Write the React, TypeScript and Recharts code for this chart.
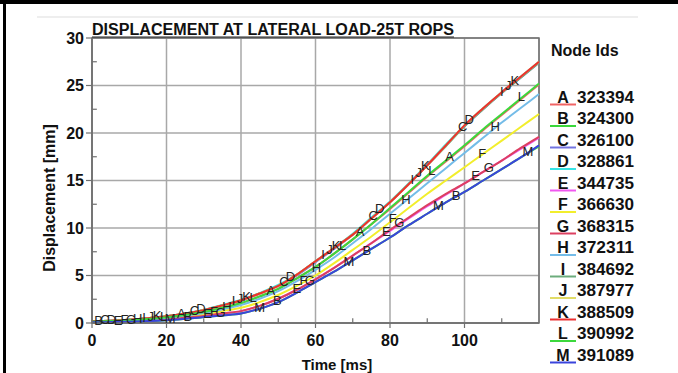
import {
  CartesianGrid,
  Line,
  LineChart,
  ReferenceArea,
  ReferenceDot,
  ReferenceLine,
  XAxis,
  YAxis,
} from "recharts";

const TIMES = [0, 5, 10, 15, 20, 25, 30, 35, 40, 45, 50, 55, 60, 65, 70, 75, 80, 85, 90, 95, 100, 105, 110, 115, 120];

const NODE_LETTERS = ["A", "B", "C", "D", "E", "F", "G", "H", "I", "J", "K", "L", "M"];
const NODE_IDS = ["323394", "324300", "326100", "328861", "344735", "366630", "368315", "372311", "384692", "387977", "388509", "390992", "391089"];
const NODE_COLORS = [
  "#f06464",
  "#3ad83a",
  "#7474e0",
  "#38e4e4",
  "#f058f0",
  "#f2ee2c",
  "#dc4060",
  "#74bce8",
  "#6cac7c",
  "#e2dc66",
  "#ec3030",
  "#3cd83c",
  "#3a44dc",
];

const DISP_A = [0.15, 0.2, 0.3, 0.42, 0.6, 0.85, 1.15, 1.6, 2.1, 2.8, 3.6, 4.7, 5.9, 7.3, 8.8, 10.4, 12.0, 13.7, 15.4, 17.0, 18.6, 20.3, 21.9, 23.5, 25.1];
const DISP_B = [0.08, 0.1, 0.14, 0.2, 0.3, 0.45, 0.62, 0.8, 1.0, 1.5, 2.2, 3.2, 4.3, 5.4, 6.6, 7.8, 9.0, 10.3, 11.5, 12.7, 13.8, 15.0, 16.2, 17.4, 18.6];
const DISP_C = [0.2, 0.25, 0.35, 0.5, 0.7, 1.0, 1.35, 1.85, 2.4, 3.1, 3.9, 5.0, 6.4, 7.8, 9.3, 11.0, 12.7, 14.6, 16.6, 18.7, 20.7, 22.5, 24.2, 25.8, 27.4];
const DISP_D = [0.2, 0.25, 0.35, 0.5, 0.7, 1.0, 1.4, 1.9, 2.45, 3.15, 4.0, 5.1, 6.5, 7.9, 9.4, 11.1, 12.8, 14.7, 16.7, 18.8, 20.8, 22.6, 24.3, 25.9, 27.5];
const DISP_E = [0.1, 0.13, 0.18, 0.26, 0.38, 0.55, 0.75, 1.0, 1.25, 1.8, 2.55, 3.5, 4.6, 5.8, 7.1, 8.4, 9.7, 11.0, 12.3, 13.5, 14.7, 15.9, 17.1, 18.3, 19.5];
const DISP_F = [0.12, 0.15, 0.22, 0.32, 0.45, 0.65, 0.9, 1.25, 1.6, 2.2, 2.95, 3.9, 5.0, 6.3, 7.7, 9.1, 10.6, 12.1, 13.6, 15.0, 16.4, 17.8, 19.2, 20.6, 22.0];
const DISP_G = [0.1, 0.13, 0.18, 0.26, 0.38, 0.55, 0.75, 1.0, 1.25, 1.8, 2.55, 3.5, 4.6, 5.8, 7.1, 8.4, 9.8, 11.1, 12.4, 13.6, 14.7, 15.9, 17.1, 18.4, 19.6];
const DISP_H = [0.15, 0.18, 0.27, 0.38, 0.55, 0.78, 1.05, 1.45, 1.9, 2.55, 3.35, 4.4, 5.6, 6.9, 8.4, 9.9, 11.5, 13.1, 14.7, 16.3, 17.9, 19.5, 21.1, 22.6, 24.1];
const DISP_I = [0.2, 0.25, 0.35, 0.5, 0.7, 1.0, 1.35, 1.85, 2.4, 3.1, 3.9, 5.1, 6.5, 7.9, 9.3, 11.0, 12.7, 14.6, 16.6, 18.6, 20.7, 22.5, 24.2, 25.8, 27.4];
const DISP_J = [0.2, 0.25, 0.35, 0.5, 0.7, 1.0, 1.35, 1.85, 2.4, 3.1, 3.9, 5.1, 6.5, 7.9, 9.3, 11.0, 12.7, 14.6, 16.6, 18.7, 20.8, 22.6, 24.3, 25.9, 27.5];
const DISP_K = [0.2, 0.25, 0.35, 0.5, 0.7, 1.0, 1.35, 1.85, 2.4, 3.1, 3.9, 5.1, 6.5, 7.9, 9.3, 11.0, 12.7, 14.6, 16.6, 18.7, 20.8, 22.6, 24.3, 25.9, 27.5];
const DISP_L = [0.15, 0.2, 0.3, 0.42, 0.6, 0.85, 1.15, 1.6, 2.1, 2.8, 3.6, 4.7, 5.9, 7.3, 8.8, 10.4, 12.1, 13.8, 15.5, 17.1, 18.7, 20.4, 22.0, 23.6, 25.2];
const DISP_M = [0.08, 0.1, 0.14, 0.2, 0.3, 0.45, 0.62, 0.8, 1.0, 1.5, 2.2, 3.2, 4.3, 5.4, 6.6, 7.8, 9.0, 10.3, 11.5, 12.7, 13.8, 15.0, 16.2, 17.4, 18.7];

const SERIES = [DISP_A, DISP_B, DISP_C, DISP_D, DISP_E, DISP_F, DISP_G, DISP_H, DISP_I, DISP_J, DISP_K, DISP_L, DISP_M];

const X_TICKS = [0, 20, 40, 60, 80, 100];
const X_MINOR = [10, 30, 50, 70, 90, 110];
const Y_TICKS = [0, 5, 10, 15, 20, 25, 30];
const Y_MINOR = [2.5, 7.5, 12.5, 17.5, 22.5, 27.5];

const TITLE = "DISPLACEMENT AT LATERAL LOAD-25T ROPS";
const FONT = "'Liberation Sans', Arial, sans-serif";
const FRAME = "#707070";
const GRID = "#a8a8a8";

const rows = TIMES.map((t, i) => {
  const row: Record<string, number> = { t };
  NODE_LETTERS.forEach((letter, s) => {
    row[letter] = SERIES[s][i];
  });
  return row;
});

// curve letters every 24 ms, staggered per node like the solver plot
function valueAt(values: number[], t: number) {
  for (let i = 1; i < TIMES.length; i++) {
    if (t <= TIMES[i]) {
      const f = (t - TIMES[i - 1]) / (TIMES[i] - TIMES[i - 1]);
      return values[i - 1] + f * (values[i] - values[i - 1]);
    }
  }
  return values[values.length - 1];
}

const curveLabels = NODE_LETTERS.flatMap((letter, s) =>
  [0, 1, 2, 3, 4]
    .map((n) => 24 * n + 1.75 * s)
    .filter((t) => t >= 1 && t <= 119)
    .map((t) => ({ letter, t, y: valueAt(SERIES[s], t) })),
);

export default function App() {
  return (
    <div
      style={{
        position: "fixed",
        left: 0,
        top: 0,
        width: 678,
        height: 373,
        background: "#fff",
        fontFamily: FONT,
      }}
    >
      <LineChart
        width={678}
        height={373}
        data={rows}
        margin={{ top: 38, right: 139, bottom: 20, left: 52 }}
      >
        <CartesianGrid stroke={GRID} strokeWidth={1.5} />
        <XAxis
          dataKey="t"
          type="number"
          domain={[0, 120]}
          ticks={X_TICKS}
          height={30}
          tickSize={5}
          tickMargin={7}
          axisLine={{ stroke: FRAME, strokeWidth: 1.5 }}
          tickLine={{ stroke: FRAME, strokeWidth: 1.2 }}
          tick={{ fontSize: 16, fontWeight: 700, fill: "#111", fontFamily: FONT }}
        />
        <YAxis
          type="number"
          domain={[0, 30]}
          ticks={Y_TICKS}
          width={40}
          tickSize={6}
          tickMargin={2}
          axisLine={{ stroke: FRAME, strokeWidth: 1.5 }}
          tickLine={{ stroke: FRAME, strokeWidth: 1.2 }}
          tick={{ fontSize: 16, fontWeight: 700, fill: "#111", fontFamily: FONT }}
        />
        {X_MINOR.map((x) => (
          <ReferenceLine
            key={`xm${x}`}
            segment={[
              { x, y: 0 },
              { x, y: 0.5 },
            ]}
            stroke={FRAME}
            strokeWidth={1.2}
          />
        ))}
        {Y_MINOR.map((y) => (
          <ReferenceLine
            key={`ym${y}`}
            segment={[
              { x: 0, y },
              { x: 1.3, y },
            ]}
            stroke={FRAME}
            strokeWidth={1.2}
          />
        ))}
        {NODE_LETTERS.map((letter, s) => (
          <Line
            key={letter}
            type="monotone"
            dataKey={letter}
            stroke={NODE_COLORS[s]}
            strokeWidth={2}
            dot={false}
            isAnimationActive={false}
          />
        ))}
        {curveLabels.map((m) => (
          <ReferenceDot
            key={`${m.letter}${m.t}`}
            x={m.t}
            y={m.y}
            r={0}
            shape={(p: { cx?: number; cy?: number }) => (
              <text
                x={p.cx}
                y={(p.cy ?? 0) + 3}
                textAnchor="middle"
                fontSize={13}
                fill="#222"
                fontFamily={FONT}
              >
                {m.letter}
              </text>
            )}
          />
        ))}
        <ReferenceArea
          x1={0}
          x2={120}
          y1={0}
          y2={30}
          fill="none"
          stroke={FRAME}
          strokeWidth={1.5}
        />
      </LineChart>

      <svg
        width={678}
        height={373}
        style={{ position: "absolute", left: 0, top: 0, pointerEvents: "none" }}
      >
        <line x1={0} x2={678} y1={2} y2={2} stroke="#000" strokeWidth={4} />
        <line x1={4.5} x2={4.5} y1={0} y2={373} stroke="#000" strokeWidth={3} />
        <line x1={37} x2={638} y1={17} y2={17} stroke="#e8e8e8" strokeWidth={1.5} />

        <text
          x={92}
          y={35}
          fontSize={16}
          fontWeight={700}
          fill="#111"
          textLength={362}
          lengthAdjust="spacingAndGlyphs"
        >
          {TITLE}
        </text>
        <line x1={92} x2={454} y1={37} y2={37} stroke="#222" strokeWidth={1.2} />

        <text
          transform="translate(55,198) rotate(-90)"
          textAnchor="middle"
          fontSize={16}
          fontWeight={700}
          fill="#111"
        >
          Displacement [mm]
        </text>
        <text x={337} y={370} textAnchor="middle" fontSize={15} fontWeight={700} fill="#111">
          Time [ms]
        </text>

        <text x={551} y={56} fontSize={16} fontWeight={700} fill="#111">
          Node Ids
        </text>
        {NODE_LETTERS.map((letter, s) => {
          const y = 102.5 + s * 21.5;
          return (
            <g key={letter}>
              <line x1={550} x2={576} y1={y + 2} y2={y + 2} stroke={NODE_COLORS[s]} strokeWidth={2} />
              <text x={563} y={y} textAnchor="middle" fontSize={16} fontWeight={700} fill="#111">
                {letter}
              </text>
              <text x={577} y={y} fontSize={16} fontWeight={700} fill="#111" textLength={57} lengthAdjust="spacingAndGlyphs">
                {NODE_IDS[s]}
              </text>
            </g>
          );
        })}
      </svg>
    </div>
  );
}
